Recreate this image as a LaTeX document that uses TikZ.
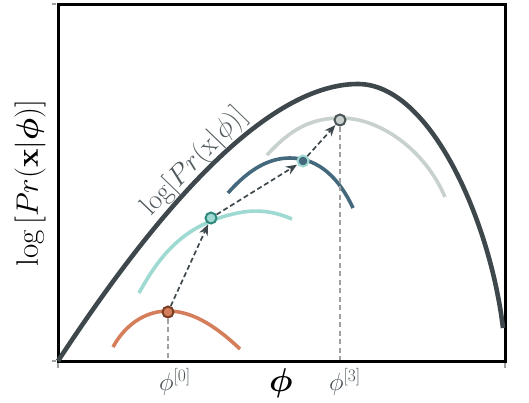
\RequirePackage{fix-cm}
\documentclass[tikz,border=0pt]{standalone}
\usepackage{amsmath,amssymb}
\usepackage{bm}
\usepackage{xcolor}
\usepackage{tikz}
\usetikzlibrary{positioning,arrows.meta}
\definecolor{slate}{RGB}{62,72,76}
\definecolor{clay}{RGB}{212,126,92}
\definecolor{clayedge}{RGB}{122,61,37}
\definecolor{mint}{RGB}{159,218,210}
\definecolor{mintedge}{RGB}{47,138,124}
\definecolor{dusk}{RGB}{68,104,124}
\definecolor{fog}{RGB}{201,209,207}
\definecolor{fogedge}{RGB}{74,83,86}
\definecolor{guide}{RGB}{160,160,160}

\begin{document}
\begin{tikzpicture}[x=1pt, y=-1pt,
		bound/.style={line width=4.6pt},
		local/.style={line width=3.6pt},
		est/.style={circle, minimum size=11pt, inner sep=0pt, line width=2pt},
		hop/.style={dashed, dash pattern=on 5pt off 3pt, line width=1.7pt, slate,
		            -{Stealth[length=11pt,width=9pt]}, shorten >=0.5pt},
		drop/.style={dashed, dash pattern=on 5pt off 3.5pt, line width=1.6pt, guide}]
		\useasboundingbox (0,0) rectangle (529,402);
		% axes
		\draw[line width=3pt] (58,4) -- (505,4) -- (505,361) -- (58,361) -- cycle;
		\draw[guide, line width=2pt] (52,4) -- (56,4) (52,361) -- (56,361)
			(58,363) -- (58,368) (505,363) -- (505,368);
		% lower bounds
		\draw[local, clay] (113,347) .. controls (125,325) and (145,311) .. (168,311)
			.. controls (195,311) and (220,330) .. (240,349);
		\draw[local, mint] (139,293) .. controls (160,255) and (185,222) .. (243,212)
			.. controls (265,209) and (280,214) .. (292,219);
		\draw[local, dusk] (228,193) .. controls (250,168) and (270,158) .. (290,158)
			.. controls (320,158) and (340,180) .. (353,208);
		\draw[local, fog] (267,155) .. controls (290,130) and (310,118) .. (341,118)
			.. controls (380,118) and (425,150) .. (445,197);
		% log likelihood
		\draw[bound, slate] (58,361) .. controls (180,175) and (280,84) .. (358,84)
			.. controls (430,84) and (490,220) .. (503,328);
		\node[slate!90, rotate=46, font=\fontsize{28}{32}\selectfont] (boundlbl) at (194,162)
			{$\log[Pr(\mathrm{x}|\phi)]$};
		% estimates
		\node[est, fill=clay, draw=clayedge] (p0) at (168,312) {};
		\node[est, fill=mint, draw=mintedge] (p1) at (211,218) {};
		\node[est, fill=dusk, draw=mint] (p2) at (303,161) {};
		\node[est, fill=fog, draw=fogedge] (p3) at (340,120) {};
		\coordinate (t0) at (168,360);
		\coordinate (t3) at (340,360);
		\draw[drop] (p0) -- (t0);
		\draw[drop] (p3) -- (t3);
		\draw[hop] (p0) -- (p1);
		\draw[hop] (p1) -- (p2);
		\draw[hop] (p2) -- (p3);
		% labels
		\node[fogedge, font=\fontsize{25}{30}\selectfont] (l0) at (175,382) {$\phi^{[0]}$};
		\node[fogedge, font=\fontsize{25}{30}\selectfont] (l3) at (345,382) {$\phi^{[3]}$};
		\node[font=\fontsize{33}{38}\selectfont] (xlbl) at (281,383) {$\bm{\phi}$};
		\node[rotate=90, font=\fontsize{31}{36}\selectfont] (ylbl) at (30,183)
			{$\log\,[Pr(\mathbf{x}|\bm{\phi})]$};
	\end{tikzpicture}
\end{document}
